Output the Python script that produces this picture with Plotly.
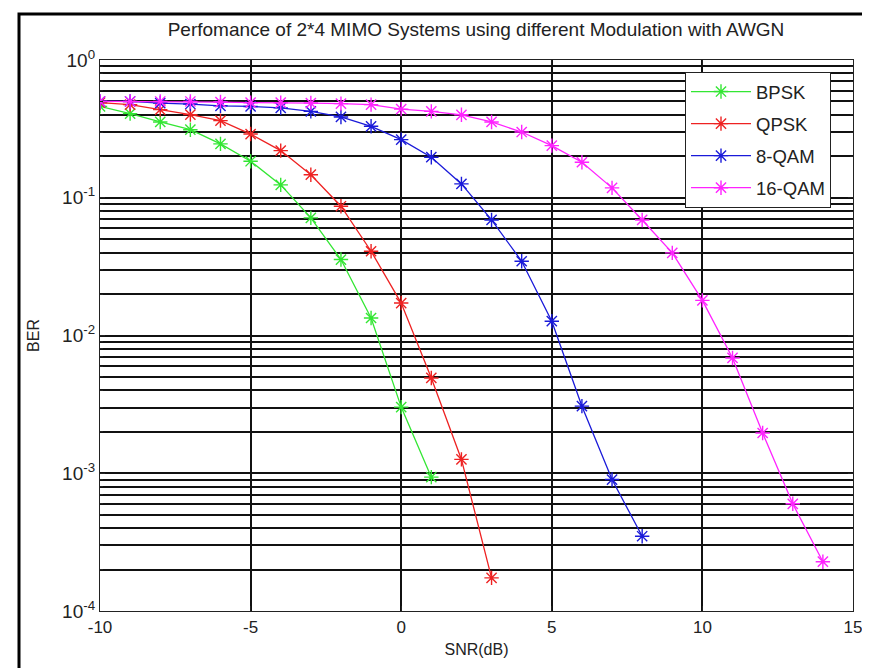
import plotly.graph_objects as go

snr_bpsk = [-10, -9, -8, -7, -6, -5, -4, -3, -2, -1, 0, 1]
ber_bpsk = [0.461, 0.408, 0.355, 0.312, 0.246, 0.184, 0.124, 0.0714, 0.0356, 0.0134, 0.00302, 0.000937]

snr_qpsk = [-10, -9, -8, -7, -6, -5, -4, -3, -2, -1, 0, 1, 2, 3]
ber_qpsk = [0.49, 0.474, 0.436, 0.401, 0.363, 0.29, 0.22, 0.147, 0.0868, 0.0409, 0.0172, 0.00492, 0.00126, 0.000174]

snr_8qam = [-10, -9, -8, -7, -6, -5, -4, -3, -2, -1, 0, 1, 2, 3, 4, 5, 6, 7, 8]
ber_8qam = [0.5, 0.5, 0.487, 0.479, 0.465, 0.46, 0.449, 0.424, 0.386, 0.33, 0.264, 0.197, 0.126, 0.069, 0.0346, 0.0127, 0.00307, 0.0009, 0.000349]

snr_16qam = [-10, -9, -8, -7, -6, -5, -4, -3, -2, -1, 0, 1, 2, 3, 4, 5, 6, 7, 8, 9, 10, 11, 12, 13, 14]
ber_16qam = [0.5, 0.5, 0.5, 0.5, 0.495, 0.49, 0.49, 0.487, 0.482, 0.474, 0.44, 0.424, 0.40, 0.355, 0.30, 0.239, 0.181, 0.118, 0.069, 0.0398, 0.018, 0.00687, 0.00196, 0.0006, 0.000228]

series_names = ["BPSK", "QPSK", "8-QAM", "16-QAM"]
series_colors = ["#33e633", "#ee2222", "#1a1ad9", "#ff22ff"]

x_ticks = [-10, -5, 0, 5, 10, 15]
x_ticktext = ["-10", "-5", "0", "5", "10", "15"]
y_tickvals = [1e-4, 1e-3, 1e-2, 1e-1, 1]
y_ticktext = ["10<sup>-4</sup>", "10<sup>-3</sup>", "10<sup>-2</sup>", "10<sup>-1</sup>", "10<sup>0</sup>"]
y_minor = [m * 10 ** e for e in (-4, -3, -2, -1) for m in range(2, 10)]

W, H = 870, 668
L, R, T, B = 92, 25, 52, 65
pw, ph = W - L - R, H - T - B

def px(x):
    return (x - L) / pw

def py(y):
    return (H - B - y) / ph

fig = go.Figure()
data = [(snr_bpsk, ber_bpsk), (snr_qpsk, ber_qpsk), (snr_8qam, ber_8qam), (snr_16qam, ber_16qam)]
for (xs, ys), name, col in zip(data, series_names, series_colors):
    fig.add_trace(go.Scatter(
        x=xs, y=ys, name=name, mode="lines+markers", legendgroup=name,
        line=dict(color=col, width=1.3),
        marker=dict(symbol="asterisk-open", size=12, line=dict(color=col, width=1.4), color=col),
    ))

gridc = "#111111"
fig.update_layout(
    template="none",
    width=W, height=H,
    margin=dict(l=L, r=R, t=T, b=B, autoexpand=False),
    paper_bgcolor="white", plot_bgcolor="white",
    font=dict(family="Liberation Sans, Arial, sans-serif", size=15, color="#222"),
    title=dict(text="Perfomance of 2*4 MIMO Systems using different Modulation with AWGN",
               x=468 / W, xanchor="center", y=1 - 21 / H, yanchor="middle",
               font=dict(size=19, color="#222"), automargin=False),
    showlegend=True,
    legend=dict(x=px(677), y=py(64), xanchor="left", yanchor="top",
                bgcolor="white", bordercolor="#222", borderwidth=1,
                font=dict(size=18.5, color="#222"), itemwidth=60,
                tracegroupgap=5, traceorder="grouped"),
    xaxis=dict(range=[-10, 15], tickvals=x_ticks, ticktext=x_ticktext, showgrid=True,
               gridcolor=gridc, gridwidth=1.6,
               zeroline=False, showline=True, linecolor="#222", linewidth=1.3, mirror="allticks",
               ticks="inside", ticklen=5, tickcolor="#222", automargin=False,
               tickfont=dict(size=17),
               title=dict(text="SNR(dB)", standoff=8, font=dict(size=16))),
    yaxis=dict(type="log", range=[-4, 0], tickvals=y_tickvals, ticktext=y_ticktext,
               showgrid=True, gridcolor=gridc, gridwidth=1.6, zeroline=False,
               showline=True, linecolor="#222", linewidth=1.3, mirror="allticks",
               ticks="inside", ticklen=5, tickcolor="#222", automargin=False,
               tickfont=dict(size=19),
               minor=dict(tickvals=y_minor, showgrid=True, gridcolor=gridc, gridwidth=1.6,
                          ticks="inside", ticklen=3, tickcolor="#222"),
               title=dict(text="BER", standoff=18, font=dict(size=16))),
    shapes=[dict(type="rect", xref="paper", yref="paper",
                 x0=px(11), x1=px(862), y0=py(667), y1=py(6),
                 line=dict(color="black", width=3), fillcolor="rgba(0,0,0,0)", layer="above")],
)

fig.write_html("out.html")
